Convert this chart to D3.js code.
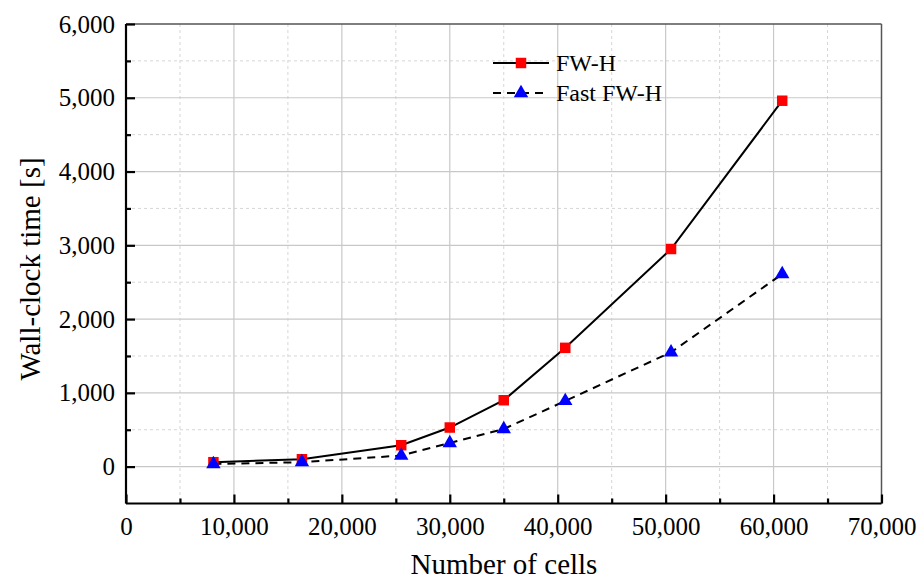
<!DOCTYPE html>
<html><head><meta charset="utf-8">
<script src="https://cdn.jsdelivr.net/npm/d3@7"></script>
<style>body{margin:0;background:#fff}svg{display:block}text{font-family:"Liberation Serif","Times New Roman",serif;fill:#000}</style>
</head><body>
<svg id="c" width="924" height="581" font-family="Liberation Serif"></svg>
<script>
const cells = [8100, 16300, 25500, 30000, 35000, 40700, 50500, 60800];
const fwh = [60, 100, 290, 530, 900, 1610, 2950, 4960];
const fastFwh = [35, 60, 150, 320, 510, 890, 1550, 2610];
const seriesNames = ["FW-H", "Fast FW-H"];
const xTicks = [0, 10000, 20000, 30000, 40000, 50000, 60000, 70000];
const yTicks = [0, 1000, 2000, 3000, 4000, 5000, 6000];
const xLabel = "Number of cells";
const yLabel = "Wall-clock time [s]";

const svg = d3.select("#c");
const L = 126, R = 881.5, T = 24, B = 503.5;
const x = d3.scaleLinear().domain([0, 70000]).range([L, R]);
const y = d3.scaleLinear().domain([-500, 6000]).range([B, T]);
const fmt = d3.format(",");
const FONT = '"Liberation Serif","Times New Roman",serif';

const xMinor = d3.range(5000, 70000, 10000);
const yMinor = d3.range(500, 6000, 1000);

const g = svg.append("g");
g.selectAll(".xm").data(xMinor).join("line").attr("x1", d=>x(d)).attr("x2", d=>x(d)).attr("y1", T).attr("y2", B)
  .attr("stroke", "#d6d6d6").attr("stroke-width", 1).attr("stroke-dasharray", "3,3");
g.selectAll(".ym").data(yMinor).join("line").attr("y1", d=>y(d)).attr("y2", d=>y(d)).attr("x1", L).attr("x2", R)
  .attr("stroke", "#d6d6d6").attr("stroke-width", 1).attr("stroke-dasharray", "3,3");
g.selectAll(".xM").data(xTicks.slice(1, -1)).join("line").attr("x1", d=>x(d)).attr("x2", d=>x(d)).attr("y1", T).attr("y2", B)
  .attr("stroke", "#c8c8c8").attr("stroke-width", 1.2);
g.selectAll(".yM").data(yTicks.slice(0, -1)).join("line").attr("y1", d=>y(d)).attr("y2", d=>y(d)).attr("x1", L).attr("x2", R)
  .attr("stroke", "#c8c8c8").attr("stroke-width", 1.2);

svg.append("line").attr("x1", L).attr("x2", R).attr("y1", T).attr("y2", T).attr("stroke", "#555").attr("stroke-width", 1.5);
svg.append("line").attr("x1", R).attr("x2", R).attr("y1", T).attr("y2", B).attr("stroke", "#555").attr("stroke-width", 1.5);

const xAxis = d3.axisBottom(x).tickValues(xTicks).tickFormat(fmt).tickSize(-9);
const xAxisMinor = d3.axisBottom(x).tickValues(xMinor).tickFormat("").tickSize(-5);
const yAxis = d3.axisLeft(y).tickValues(yTicks).tickFormat(fmt).tickSize(-9);
const yAxisMinor = d3.axisLeft(y).tickValues(yMinor).tickFormat("").tickSize(-5);

function styleAxis(sel) {
  sel.attr("font-family", FONT).attr("font-size", 25);
  sel.select(".domain").attr("stroke", "#000").attr("stroke-width", 2.2);
  sel.selectAll(".tick line").attr("stroke", "#000").attr("stroke-width", 2.2);
  sel.selectAll("text").attr("font-family", FONT).attr("font-size", 25).attr("fill", "#000");
}
const gx = svg.append("g").attr("transform", `translate(0,${B})`).call(xAxis).call(styleAxis);
gx.select(".domain").attr("d", `M${L},0H${R}`);
gx.selectAll("text").attr("y", 14).attr("dy", "0.71em");
svg.append("g").attr("transform", `translate(0,${B})`).call(xAxisMinor).call(styleAxis).select(".domain").remove();
const gy = svg.append("g").attr("transform", `translate(${L},0)`).call(yAxis).call(styleAxis);
gy.select(".domain").attr("d", `M0,${B}V${T}`);
gy.selectAll("text").attr("x", -11);
svg.append("g").attr("transform", `translate(${L},0)`).call(yAxisMinor).call(styleAxis).select(".domain").remove();

svg.append("text").attr("x", 504).attr("y", 574).attr("text-anchor", "middle").attr("font-family", FONT).attr("font-size", 29).text(xLabel);
svg.append("text").attr("transform", "translate(40,269) rotate(-90)").attr("text-anchor", "middle").attr("font-family", FONT).attr("font-size", 29).text(yLabel);

const line = d3.line().x(d=>x(d[0])).y(d=>y(d[1]));
const d1 = cells.map((c, i) => [c, fwh[i]]);
const d2 = cells.map((c, i) => [c, fastFwh[i]]);
svg.append("path").datum(d1).attr("d", line).attr("fill", "none").attr("stroke", "#000").attr("stroke-width", 2);
svg.append("path").datum(d2).attr("d", line).attr("fill", "none").attr("stroke", "#000").attr("stroke-width", 2).attr("stroke-dasharray", "8,6");

const sq = d3.symbol().type(d3.symbolSquare).size(110);
const tri = d3.symbol().type(d3.symbolTriangle).size(90);
svg.selectAll(".sq").data(d1).join("path").attr("transform", d=>`translate(${x(d[0])},${y(d[1])})`).attr("d", sq).attr("fill", "#ff0000");
svg.selectAll(".tr").data(d2).join("path").attr("transform", d=>`translate(${x(d[0])},${y(d[1])})`).attr("d", tri).attr("fill", "#0000ff");

const lg = svg.append("g");
const rows = [{y: 63, dash: null, sym: sq, col: "#ff0000"}, {y: 93, dash: "8,6", sym: tri, col: "#0000ff"}];
rows.forEach((r, i) => {
  const ln = lg.append("line").attr("x1", 493).attr("x2", 549).attr("y1", r.y).attr("y2", r.y).attr("stroke", "#000").attr("stroke-width", 2);
  if (r.dash) ln.attr("stroke-dasharray", r.dash);
  lg.append("path").attr("transform", `translate(521,${r.y})`).attr("d", r.sym).attr("fill", r.col);
  lg.append("text").attr("x", 556).attr("y", r.y).attr("dy", "0.35em").attr("font-family", FONT).attr("font-size", 24).text(seriesNames[i]);
});
</script>
</body></html>
